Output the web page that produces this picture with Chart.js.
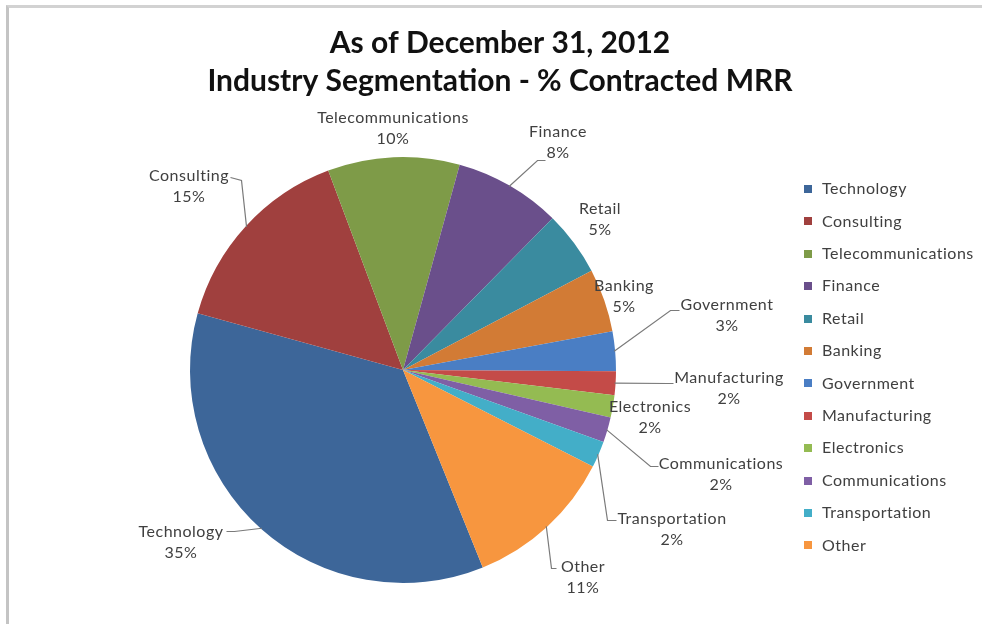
<!DOCTYPE html>
<html>
<head>
<meta charset="utf-8">
<script src="https://cdn.jsdelivr.net/npm/chart.js@4/dist/chart.umd.min.js"></script>
<style>
  html, body { margin: 0; padding: 0; background: #fff; }
  #wrap { position: relative; width: 982px; height: 624px; overflow: hidden; }
  #frame {
    position: absolute; left: 6px; top: 5px; width: 980px; height: 625px;
    border-top: 3px solid #d2d2d2; border-left: 3px solid #c4c4c4;
  }
  #chart { position: absolute; left: 0; top: 0; }
</style>
</head>
<body>
<div id="wrap">
  <div id="frame"></div>
  <canvas id="chart" width="982" height="624"></canvas>
</div>
<script>
// data (percent of contracted MRR)
const titleLines = ['As of December 31, 2012', 'Industry Segmentation - % Contracted MRR'];
const categories = ['Technology', 'Consulting', 'Telecommunications', 'Finance', 'Retail', 'Banking',
  'Government', 'Manufacturing', 'Electronics', 'Communications', 'Transportation', 'Other'];
const shares = [35.4, 15.0, 10.0, 8.1, 4.9, 4.8, 3.0, 1.8, 1.7, 1.9, 2.0, 11.4];
const colors = ['#3d6699', '#a0403e', '#7e9b48', '#6a4f8b', '#3a8b9f', '#d27b35',
  '#4a7ec4', '#c44b48', '#94bb52', '#7f5fa5', '#43aec8', '#f7963f'];

// where each data label sits (centre of the name line), plus leader line bend
const labelSpots = [
  { x: 181, y: 532, elbow: [234, 531], end: [226, 531] },
  { x: 189, y: 176, elbow: [241, 180], end: [230, 177] },
  { x: 393, y: 118 },
  { x: 558, y: 132, elbow: [537, 160], end: [545, 160] },
  { x: 600, y: 209 },
  { x: 624, y: 286 },
  { x: 727, y: 305, elbow: [670, 310], end: [679, 310] },
  { x: 729, y: 378, elbow: [667, 383], end: [673, 383] },
  { x: 650, y: 407 },
  { x: 721, y: 464, elbow: [650, 466], end: [658, 466] },
  { x: 672, y: 519, elbow: [607, 520], end: [616, 520] },
  { x: 583, y: 567, elbow: [551, 568], end: [556, 568] }
];

const labelFont = '16px Lato';
const textColor = '#404040';

const extras = {
  id: 'extras',
  afterDraw(chart) {
    const ctx = chart.ctx;
    const meta = chart.getDatasetMeta(0);
    const total = shares.reduce((a, b) => a + b, 0);
    ctx.save();

    // title
    ctx.fillStyle = '#111';
    ctx.textAlign = 'center';
    ctx.textBaseline = 'middle';
    ctx.font = 'bold 30px Lato';
    ctx.fillText(titleLines[0], 500, 43);
    ctx.fillText(titleLines[1], 500, 81);

    // leader lines
    ctx.strokeStyle = '#7a7a7a';
    ctx.lineWidth = 1.2;
    meta.data.forEach((arc, i) => {
      const spot = labelSpots[i];
      if (!spot.elbow) return;
      const p = arc.getProps(['x', 'y', 'startAngle', 'endAngle', 'outerRadius'], true);
      const mid = (p.startAngle + p.endAngle) / 2;
      const sx = p.x + Math.cos(mid) * (p.outerRadius - 1);
      const sy = p.y + Math.sin(mid) * (p.outerRadius - 1);
      ctx.beginPath();
      ctx.moveTo(sx, sy);
      ctx.lineTo(spot.elbow[0] + 0.5, spot.elbow[1] + 0.5);
      ctx.lineTo(spot.end[0] + 0.5, spot.end[1] + 0.5);
      ctx.stroke();
    });

    // data labels
    ctx.fillStyle = textColor;
    ctx.font = labelFont;
    ctx.letterSpacing = '0.5px';
    categories.forEach((name, i) => {
      const spot = labelSpots[i];
      const pct = Math.round(shares[i] / total * 100) + '%';
      ctx.fillText(name, spot.x, spot.y);
      ctx.fillText(pct, spot.x, spot.y + 21);
    });

    // legend
    ctx.textAlign = 'left';
    const rowGap = 32.4;
    categories.forEach((name, i) => {
      const y = 189 + i * rowGap;
      ctx.fillStyle = colors[i];
      ctx.fillRect(804, Math.round(y) - 4, 8, 8);
      ctx.fillStyle = textColor;
      ctx.fillText(name, 822, y);
    });

    ctx.restore();
  }
};

new Chart(document.getElementById('chart'), {
  type: 'pie',
  data: {
    labels: categories,
    datasets: [{
      data: shares,
      backgroundColor: colors,
      borderWidth: 0
    }]
  },
  options: {
    responsive: false,
    animation: false,
    events: [],
    rotation: 158,
    layout: { padding: { left: 190, right: 366, top: 157, bottom: 41 } },
    plugins: {
      legend: { display: false },
      title: { display: false },
      tooltip: { enabled: false }
    }
  },
  plugins: [extras]
});
</script>
</body>
</html>
